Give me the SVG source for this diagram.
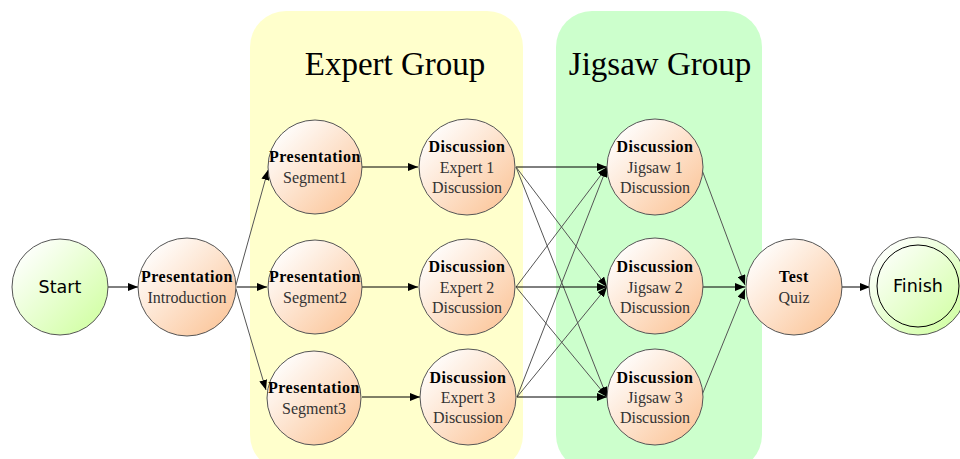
<svg xmlns="http://www.w3.org/2000/svg" width="960" height="459" viewBox="0 0 960 459">
<defs>
<linearGradient id="peach" x1="0" y1="0" x2="1" y2="1">
<stop offset="0.1" stop-color="#ffffff"/>
<stop offset="1" stop-color="#fbc090"/>
</linearGradient>
<linearGradient id="green" x1="0" y1="0" x2="1" y2="1">
<stop offset="0.1" stop-color="#ffffff"/>
<stop offset="1" stop-color="#ccff99"/>
</linearGradient>
<marker id="arr" viewBox="0 0 10 8" refX="10" refY="4" markerWidth="10" markerHeight="8" markerUnits="userSpaceOnUse" orient="auto">
<path d="M0,0 L10,4 L0,8 Z" fill="#000"/>
</marker>
</defs>
<style>
.node{stroke:#555;stroke-width:1}
.p{fill:url(#peach)}
.g{fill:url(#green)}
.b{font-family:"Liberation Serif","Times New Roman",serif;font-size:16px;font-weight:bold;letter-spacing:0.5px;fill:#000;text-anchor:middle}
.r{font-family:"Liberation Serif","Times New Roman",serif;font-size:16px;fill:#333;text-anchor:middle}
.s{font-family:"DejaVu Sans",Verdana,sans-serif;font-size:17.5px;fill:#000;text-anchor:middle}
.t{font-family:"Liberation Serif","Times New Roman",serif;font-size:33px;fill:#000;text-anchor:middle}
.c{fill:none;stroke:#000;stroke-width:1;marker-end:url(#arr)}
.d{fill:none;stroke:#555;stroke-width:1;marker-end:url(#arr)}
</style>
<rect width="960" height="459" fill="#fff"/>
<g id="expert-group">
<rect x="250" y="11" width="273" height="460" rx="36" fill="#ffffcc"/>
<text class="t" x="395" y="75">Expert Group</text>
</g>
<g id="jigsaw-group">
<rect x="556" y="11" width="206" height="460" rx="36" fill="#ccffcc"/>
<text class="t" x="660" y="75">Jigsaw Group</text>
</g>
<g id="connectors">
<line class="c" x1="108" y1="287" x2="138" y2="287"/>
<line class="d" x1="236" y1="285" x2="268" y2="170"/>
<line class="c" x1="237" y1="287" x2="267" y2="287"/>
<line class="d" x1="236" y1="289" x2="266" y2="390"/>
<line class="c" x1="362" y1="167" x2="418" y2="167"/>
<line class="c" x1="362" y1="287" x2="418" y2="287"/>
<line class="c" x1="362" y1="397" x2="420" y2="397"/>
<line class="c" x1="516" y1="167" x2="607" y2="167"/>
<line class="d" x1="516" y1="167" x2="607" y2="287"/>
<line class="d" x1="516" y1="167" x2="607" y2="397"/>
<line class="d" x1="516" y1="287" x2="607" y2="167"/>
<line class="c" x1="516" y1="287" x2="607" y2="287"/>
<line class="d" x1="516" y1="287" x2="607" y2="397"/>
<line class="d" x1="517" y1="397" x2="607" y2="167"/>
<line class="d" x1="517" y1="397" x2="607" y2="287"/>
<line class="c" x1="517" y1="397" x2="607" y2="397"/>
<line class="d" x1="702" y1="170" x2="745" y2="285"/>
<line class="c" x1="702" y1="287" x2="745" y2="287"/>
<line class="d" x1="702" y1="395" x2="745" y2="289"/>
<line class="c" x1="842" y1="287" x2="870" y2="287"/>
</g>
<g id="start">
<circle class="node g" cx="60" cy="287" r="48"/>
<text class="s" x="60" y="293">Start</text>
</g>
<g id="intro">
<circle class="node p" cx="187" cy="287" r="49"/>
<text class="b" x="187" y="282">Presentation</text>
<text class="r" x="187" y="303">Introduction</text>
</g>
<g id="seg1">
<circle class="node p" cx="315" cy="167" r="47"/>
<text class="b" x="315" y="162">Presentation</text>
<text class="r" x="315" y="183">Segment1</text>
</g>
<g id="seg2">
<circle class="node p" cx="315" cy="287" r="47"/>
<text class="b" x="315" y="282">Presentation</text>
<text class="r" x="315" y="303">Segment2</text>
</g>
<g id="seg3">
<circle class="node p" cx="314" cy="398" r="47"/>
<text class="b" x="314" y="393">Presentation</text>
<text class="r" x="314" y="414">Segment3</text>
</g>
<g id="expert1">
<circle class="node p" cx="467" cy="167" r="48"/>
<text class="b" x="467" y="152">Discussion</text>
<text class="r" x="467" y="173">Expert 1</text>
<text class="r" x="467" y="193">Discussion</text>
</g>
<g id="expert2">
<circle class="node p" cx="467" cy="287" r="48"/>
<text class="b" x="467" y="272">Discussion</text>
<text class="r" x="467" y="293">Expert 2</text>
<text class="r" x="467" y="313">Discussion</text>
</g>
<g id="expert3">
<circle class="node p" cx="468" cy="397" r="48"/>
<text class="b" x="468" y="383">Discussion</text>
<text class="r" x="468" y="403">Expert 3</text>
<text class="r" x="468" y="423">Discussion</text>
</g>
<g id="jigsaw1">
<circle class="node p" cx="655" cy="167" r="48"/>
<text class="b" x="655" y="152">Discussion</text>
<text class="r" x="655" y="173">Jigsaw 1</text>
<text class="r" x="655" y="193">Discussion</text>
</g>
<g id="jigsaw2">
<circle class="node p" cx="655" cy="286" r="48"/>
<text class="b" x="655" y="272">Discussion</text>
<text class="r" x="655" y="293">Jigsaw 2</text>
<text class="r" x="655" y="313">Discussion</text>
</g>
<g id="jigsaw3">
<circle class="node p" cx="655" cy="397" r="48"/>
<text class="b" x="655" y="383">Discussion</text>
<text class="r" x="655" y="403">Jigsaw 3</text>
<text class="r" x="655" y="423">Discussion</text>
</g>
<g id="test">
<circle class="node p" cx="794" cy="287" r="48"/>
<text class="b" x="794" y="282">Test</text>
<text class="r" x="794" y="303">Quiz</text>
</g>
<g id="finish">
<circle class="node g" cx="918" cy="286" r="49"/>
<circle cx="918" cy="286" r="41" fill="none" stroke="#000" stroke-width="1"/>
<text class="s" x="918" y="292">Finish</text>
</g>
</svg>
